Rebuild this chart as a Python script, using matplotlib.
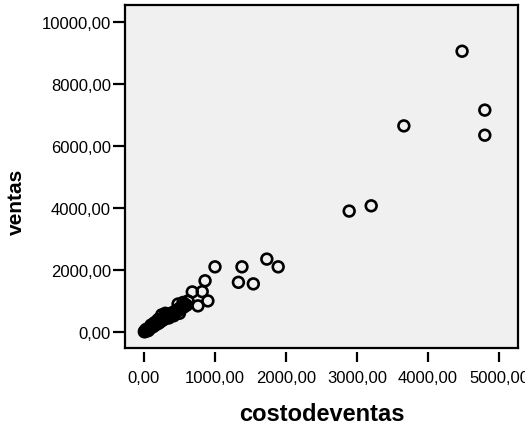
import matplotlib.pyplot as plt
from matplotlib.ticker import FuncFormatter

# costodeventas (x) and ventas (y)
costo = [4480, 4800, 4800, 3660, 3200, 2890, 1890, 1730, 1540, 1380, 1330,
         1000, 860, 820, 680, 900, 760,
         10, 20, 30, 40, 50, 60, 70, 80, 90, 100, 110, 120, 130, 140, 150,
         160, 170, 180, 190, 200, 210, 220, 230, 240, 250, 260, 270, 280,
         290, 300, 310, 320, 340, 350, 370, 380, 400, 420, 440, 460, 480,
         500, 520, 540, 560, 580, 600, 250, 300, 350, 420, 480, 200, 150,
         100, 60, 30, 5, 15, 500, 550, 620]
ventas = [9060, 7160, 6350, 6650, 4070, 3900, 2100, 2350, 1550, 2100, 1600,
          2100, 1650, 1300, 1290, 1000, 840,
          20, 40, 30, 70, 60, 110, 90, 130, 120, 160, 150, 200, 170, 230, 210,
          260, 240, 280, 300, 270, 330, 310, 360, 340, 400, 380, 420, 450,
          410, 480, 460, 520, 500, 560, 540, 600, 580, 640, 620, 700, 680,
          760, 740, 820, 800, 880, 860, 550, 600, 450, 520, 900, 400, 300,
          220, 40, 80, 5, 10, 600, 950, 1000]

xticks = [0, 1000, 2000, 3000, 4000, 5000]
yticks = [0, 2000, 4000, 6000, 8000, 10000]

plt.rcParams['font.family'] = ['Liberation Sans', 'DejaVu Sans']

fig = plt.figure(figsize=(5.25, 4.35), dpi=100)
ax = fig.add_axes([0.238, 0.198, 0.749, 0.788])
ax.set_facecolor('#f0f0f0')

ax.scatter(costo, ventas, s=60, facecolors='none', edgecolors='black',
           linewidths=1.9, zorder=3)

ax.set_xlim(-268, 5270)
ax.set_ylim(-516, 10550)
ax.set_xticks(xticks)
ax.set_yticks(yticks)
fmt = FuncFormatter(lambda v, p: f"{v:.2f}".replace('.', ','))
ax.xaxis.set_major_formatter(fmt)
ax.yaxis.set_major_formatter(fmt)

for s in ax.spines.values():
    s.set_linewidth(1.6)
# x ticks sit a bit below the frame, as in SPSS
ax.spines['bottom'].set_position(('outward', 3))
ax.spines['bottom'].set_visible(False)
ax.plot([0, 1], [0, 0], transform=ax.transAxes, color='black', lw=1.6,
        clip_on=False, zorder=5)

ax.tick_params(axis='x', length=7, width=1.6, pad=6, labelsize=12)
ax.tick_params(axis='y', length=9, width=1.6, pad=1, labelsize=12)

ax.set_xlabel('costodeventas', fontsize=17, fontweight='bold')
ax.xaxis.set_label_coords(0.5, -0.157)
ax.set_ylabel('ventas', fontsize=15, fontweight='bold')
ax.yaxis.set_label_coords(-0.252, 0.43)

fig.savefig('out.png', dpi=100)
